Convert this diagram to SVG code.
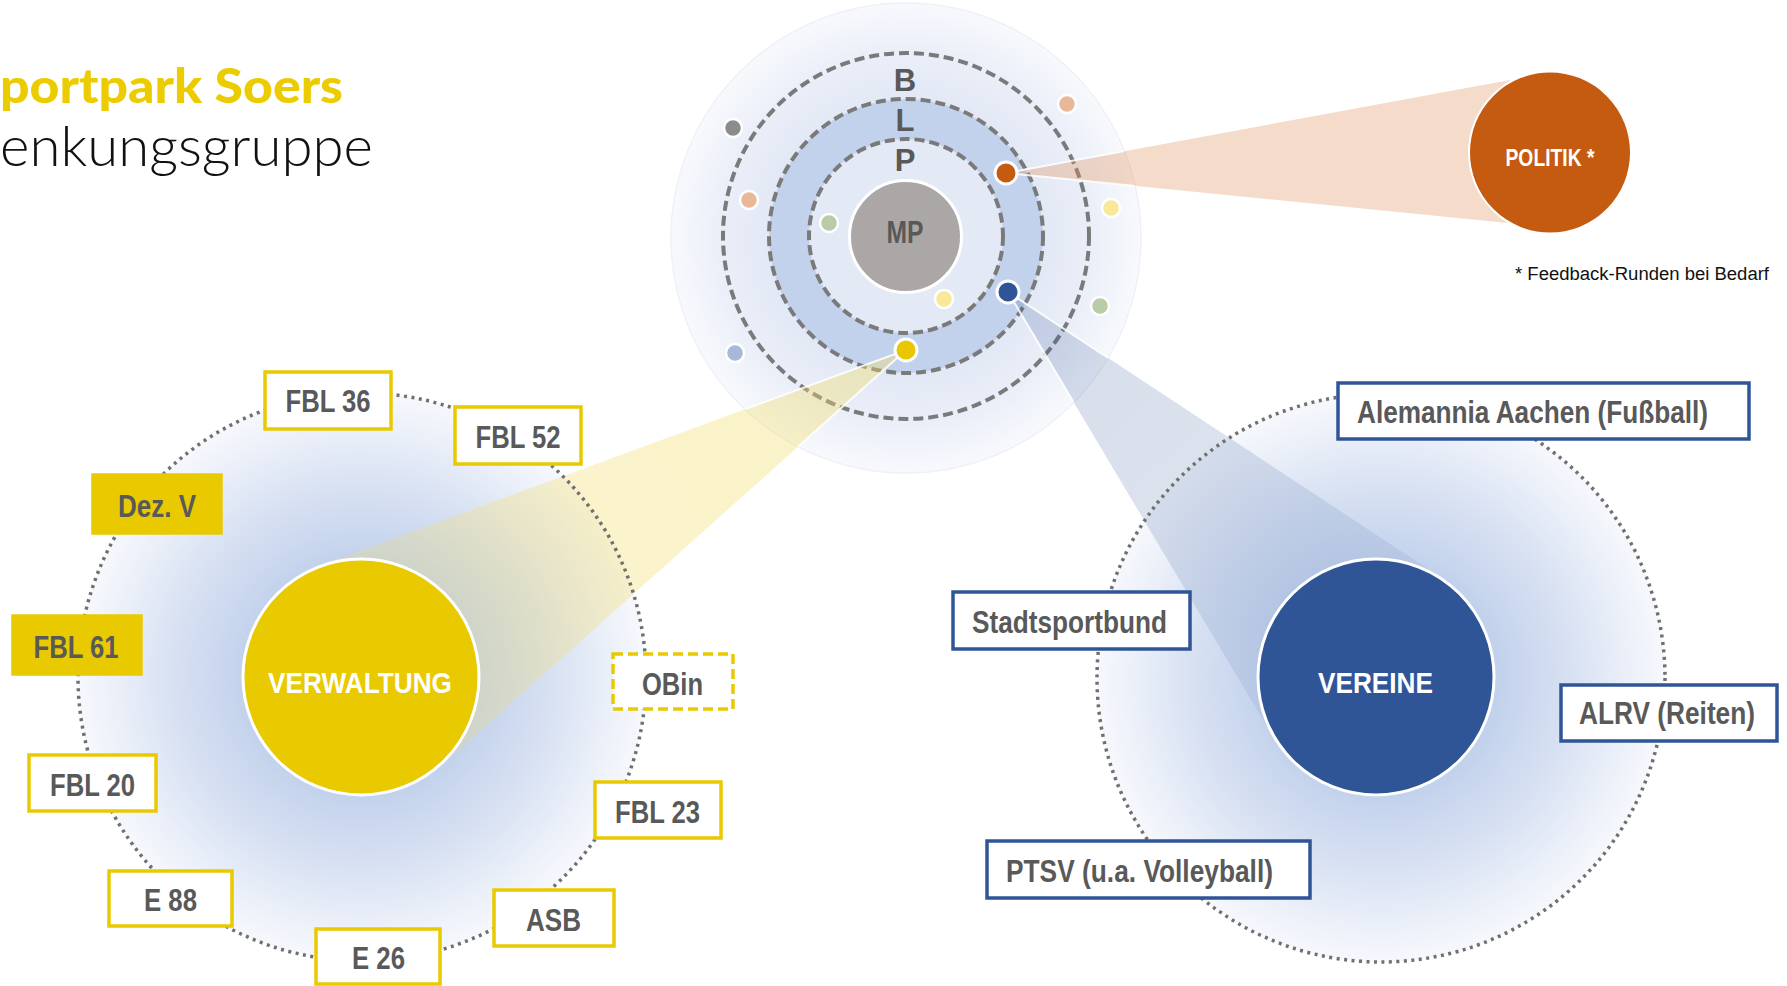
<svg xmlns="http://www.w3.org/2000/svg" width="1787" height="986" viewBox="0 0 1787 986">
<defs>
<radialGradient id="halo" cx="0.5" cy="0.5" r="0.5">
<stop offset="0" stop-color="#b9cbe8"/>
<stop offset="0.42" stop-color="#c3d2ec"/>
<stop offset="0.65" stop-color="#d6e0f2"/>
<stop offset="0.85" stop-color="#e9eef8"/>
<stop offset="1" stop-color="#f6f8fc"/>
</radialGradient>
<radialGradient id="tophalo" cx="0.5" cy="0.5" r="0.5">
<stop offset="0" stop-color="#dde5f3"/>
<stop offset="0.58" stop-color="#e2e8f5"/>
<stop offset="0.78" stop-color="#eaeef8"/>
<stop offset="1" stop-color="#f7f9fc"/>
</radialGradient>
<linearGradient id="yc" gradientUnits="userSpaceOnUse" x1="906" y1="350" x2="362" y2="677">
<stop offset="0" stop-color="#f3dc6a" stop-opacity="0.38"/>
<stop offset="0.55" stop-color="#f3dc6a" stop-opacity="0.35"/>
<stop offset="1" stop-color="#f3dc6a" stop-opacity="0.22"/>
</linearGradient>
<linearGradient id="bc" gradientUnits="userSpaceOnUse" x1="1008" y1="292" x2="1376" y2="677">
<stop offset="0" stop-color="#2f5597" stop-opacity="0.2"/>
<stop offset="0.5" stop-color="#2f5597" stop-opacity="0.17"/>
<stop offset="1" stop-color="#2f5597" stop-opacity="0.06"/>
</linearGradient>
<clipPath id="topclip"><circle cx="906" cy="238" r="235"/></clipPath>
<style>
.ybox{fill:#fff;stroke:#e9c900;stroke-width:3.5}
.yfill{fill:#e9c900;stroke:#e9c900;stroke-width:3.5}
.ydash{fill:#fff;stroke:#e9c900;stroke-width:3.5;stroke-dasharray:10 5}
.bbox{fill:#fff;stroke:#2f5597;stroke-width:3.5}
.lbl{font-family:"Liberation Sans",Arial,sans-serif;font-weight:700;font-size:31px;fill:#595959}
.c{text-anchor:middle}
.wl{font-family:"Liberation Sans",Arial,sans-serif;font-weight:700;fill:#fff;text-anchor:middle}
.dash{fill:none;stroke:#7a7a7a;stroke-width:4;stroke-dasharray:10 5}
.dots{fill:none;stroke:#707070;stroke-width:3.5;stroke-dasharray:3 4.5}
.sd{stroke:#fff;stroke-width:2.5}
.edge{fill:none;stroke:#fff;stroke-width:2;stroke-opacity:0.85}
</style>
</defs>
<rect width="1787" height="986" fill="#fff"/>

<g id="title">
<text x="0" y="103" font-family="Lato,'Open Sans',sans-serif" font-weight="900" font-size="48" fill="#eccc00" textLength="343" lengthAdjust="spacingAndGlyphs">portpark Soers</text>
<text x="0" y="166" font-family="Lato,'Open Sans',sans-serif" font-weight="300" font-size="56" fill="#111" textLength="373" lengthAdjust="spacingAndGlyphs">enkungsgruppe</text>
</g>

<g id="halos">
<circle cx="362" cy="677" r="284" fill="url(#halo)"/>
<circle cx="1381" cy="678" r="284" fill="url(#halo)"/>
</g>

<g id="orbit">
<circle cx="906" cy="238" r="235" fill="url(#tophalo)" stroke="#eef1f7" stroke-width="1.5"/>
<circle cx="906" cy="236" r="137" fill="#c3d2ec"/>
<circle cx="906" cy="236" r="97" fill="#e3e9f5"/>
<circle class="dash" cx="906" cy="236" r="183"/>
<circle class="dash" cx="906" cy="236" r="137"/>
<circle class="dash" cx="906" cy="236" r="97"/>
<text class="lbl c" x="905" y="91" font-size="31">B</text>
<text class="lbl c" x="905" y="131" font-size="31">L</text>
<text class="lbl c" x="905" y="171" font-size="31">P</text>
</g>

<g id="connectors">
<polygon points="1006,173 1510,80 1550,152 1508,223" fill="#e0915a" fill-opacity="0.33"/>
<polygon points="906,350 320.8,565.3 362,677 441.5,765.9" fill="url(#yc)"/>
<polygon points="1008,292 1441.4,577.7 1376,677 1273.7,737.9" fill="url(#bc)"/>
<g clip-path="url(#topclip)">
<polyline class="edge" points="1510,80 1006,173 1508,223"/>
<polyline class="edge" points="320.8,565.3 906,350 441.5,765.9"/>
<polyline class="edge" points="1441.4,577.7 1008,292 1273.7,737.9"/>
</g>
</g>

<g id="rings">
<circle class="dots" cx="362" cy="677" r="284"/>
<circle class="dots" cx="1381" cy="678" r="284"/>
</g>

<g id="satellites">
<circle class="sd" cx="733" cy="128" r="9" fill="#8c8c8c"/>
<circle class="sd" cx="1067" cy="104" r="9" fill="#e8b898"/>
<circle class="sd" cx="749" cy="200" r="9" fill="#e8b898"/>
<circle class="sd" cx="829" cy="223" r="9" fill="#b8cca8"/>
<circle class="sd" cx="1111" cy="208" r="9" fill="#f8e898"/>
<circle class="sd" cx="944" cy="299" r="9" fill="#f8e898"/>
<circle class="sd" cx="1100" cy="306" r="9" fill="#b8cca8"/>
<circle class="sd" cx="735" cy="353" r="9" fill="#a8b8d8"/>
<circle cx="1006" cy="173" r="11" fill="#c55a11" stroke="#fff" stroke-width="3"/>
<circle cx="1008" cy="292" r="11" fill="#2f5597" stroke="#fff" stroke-width="3"/>
<circle cx="906" cy="350" r="11" fill="#e9c700" stroke="#fff" stroke-width="3"/>
</g>

<g id="mp">
<circle cx="905.5" cy="236.5" r="56" fill="#aba7a6" stroke="#fff" stroke-width="3"/>
<text class="lbl c" x="905" y="243" font-size="29" textLength="37" lengthAdjust="spacingAndGlyphs">MP</text>
</g>

<g id="politik">
<circle cx="1550" cy="152.5" r="81" fill="#c55a11" stroke="#fff" stroke-width="2"/>
<text class="wl" x="1550" y="166" font-size="24" textLength="89" lengthAdjust="spacingAndGlyphs">POLITIK *</text>
</g>

<g id="verwaltung">
<circle cx="361" cy="677" r="118" fill="#e9c900" stroke="#fff" stroke-width="3"/>
<text class="wl" x="360" y="693" font-size="30" textLength="184" lengthAdjust="spacingAndGlyphs">VERWALTUNG</text>
</g>

<g id="vereine">
<circle cx="1376" cy="677" r="118" fill="#2f5597" stroke="#fff" stroke-width="3"/>
<text class="wl" x="1375.5" y="693" font-size="30" textLength="115" lengthAdjust="spacingAndGlyphs">VEREINE</text>
</g>

<g id="fbl36"><rect class="ybox" x="265" y="372" width="126" height="57"/><text class="lbl c" x="328" y="412" textLength="85" lengthAdjust="spacingAndGlyphs">FBL 36</text></g>
<g id="fbl52"><rect class="ybox" x="455" y="407" width="126" height="57"/><text class="lbl c" x="518" y="448" textLength="85" lengthAdjust="spacingAndGlyphs">FBL 52</text></g>
<g id="dezv"><rect class="yfill" x="93" y="475" width="128" height="58"/><text class="lbl c" x="157" y="517" textLength="78" lengthAdjust="spacingAndGlyphs">Dez. V</text></g>
<g id="fbl61"><rect class="yfill" x="13" y="616" width="128" height="58"/><text class="lbl c" x="76" y="658" textLength="85" lengthAdjust="spacingAndGlyphs">FBL 61</text></g>
<g id="fbl20"><rect class="ybox" x="29" y="755" width="127" height="56"/><text class="lbl c" x="92.5" y="796" textLength="85" lengthAdjust="spacingAndGlyphs">FBL 20</text></g>
<g id="e88"><rect class="ybox" x="109" y="871" width="123" height="55"/><text class="lbl c" x="170.5" y="911" textLength="53" lengthAdjust="spacingAndGlyphs">E 88</text></g>
<g id="e26"><rect class="ybox" x="316" y="929" width="124" height="55"/><text class="lbl c" x="378.5" y="969" textLength="53" lengthAdjust="spacingAndGlyphs">E 26</text></g>
<g id="obin"><rect class="ydash" x="613" y="654" width="120" height="55"/><text class="lbl c" x="672.5" y="695" textLength="61" lengthAdjust="spacingAndGlyphs">OBin</text></g>
<g id="fbl23"><rect class="ybox" x="595" y="782" width="126" height="56"/><text class="lbl c" x="657.5" y="823" textLength="85" lengthAdjust="spacingAndGlyphs">FBL 23</text></g>
<g id="asb"><rect class="ybox" x="494" y="890" width="120" height="56"/><text class="lbl c" x="553.5" y="931" textLength="55" lengthAdjust="spacingAndGlyphs">ASB</text></g>

<g id="alemannia"><rect class="bbox" x="1338" y="383" width="411" height="56"/><text class="lbl" x="1357" y="423" font-size="30" textLength="351" lengthAdjust="spacingAndGlyphs">Alemannia Aachen (Fußball)</text></g>
<g id="alrv"><rect class="bbox" x="1561" y="685" width="216" height="56"/><text class="lbl" x="1579" y="724" font-size="30" textLength="176" lengthAdjust="spacingAndGlyphs">ALRV (Reiten)</text></g>
<g id="stadtsportbund"><rect class="bbox" x="953" y="592" width="237" height="57"/><text class="lbl" x="972" y="633" font-size="30" textLength="195" lengthAdjust="spacingAndGlyphs">Stadtsportbund</text></g>
<g id="ptsv"><rect class="bbox" x="987" y="841" width="323" height="57"/><text class="lbl" x="1006" y="882" font-size="30" textLength="267" lengthAdjust="spacingAndGlyphs">PTSV (u.a. Volleyball)</text></g>

<g id="footnote">
<text x="1515" y="280" font-family="'Liberation Sans',Arial,sans-serif" font-size="18" fill="#111" textLength="254" lengthAdjust="spacingAndGlyphs">* Feedback-Runden bei Bedarf</text>
</g>
</svg>
